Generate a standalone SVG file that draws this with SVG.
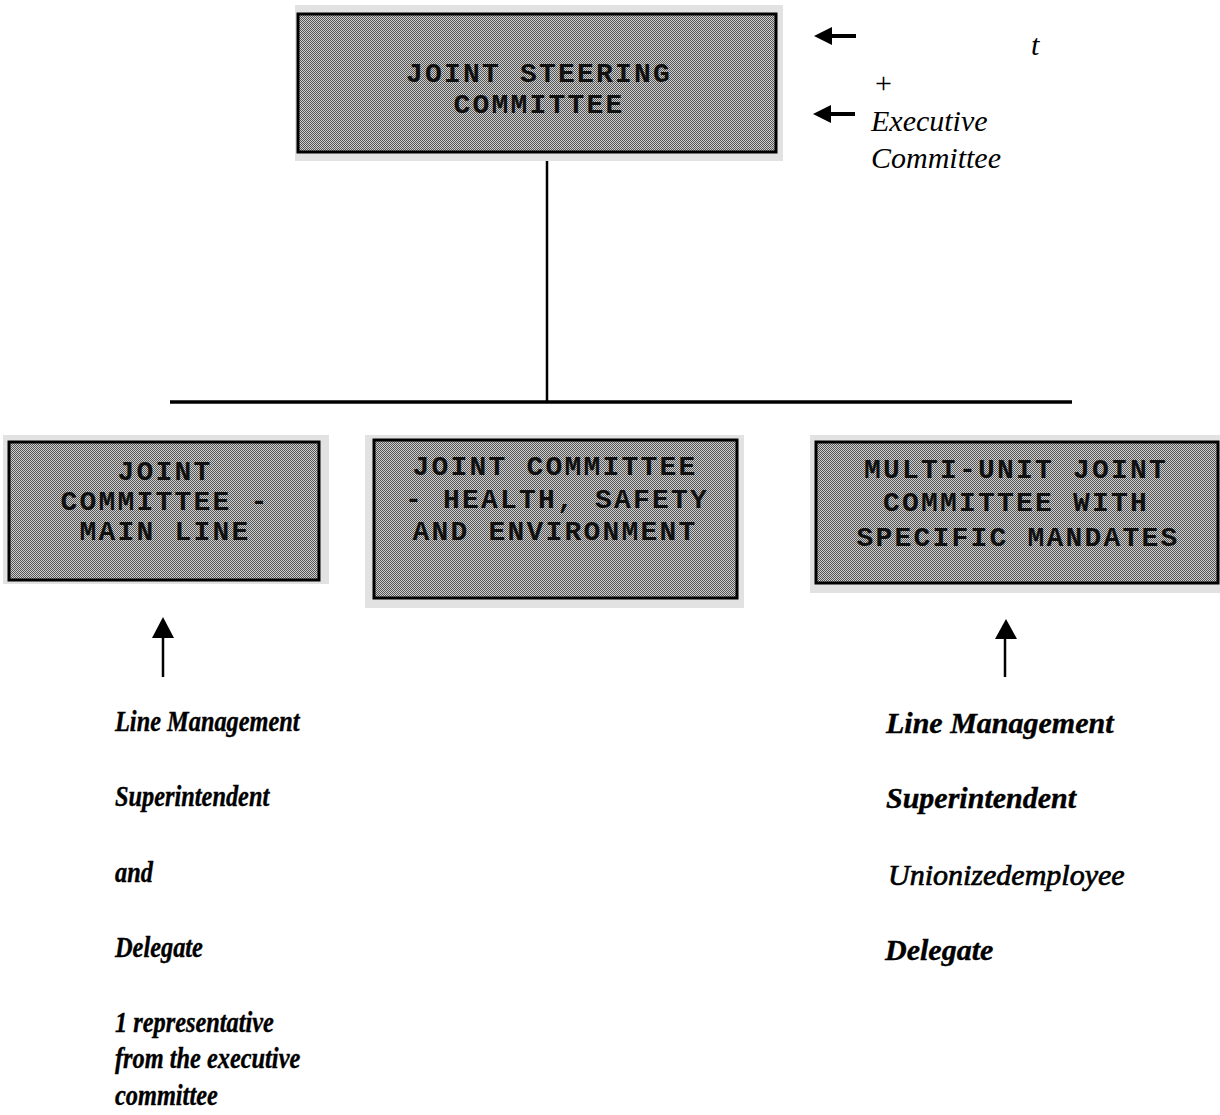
<svg xmlns="http://www.w3.org/2000/svg" width="1220" height="1115" viewBox="0 0 1220 1115">
<style>
.frame{fill:#e2e2e2}
.box{fill:url(#ht);stroke:#000;stroke-width:3}
.bt{font-family:"Liberation Mono","DejaVu Sans Mono",monospace;font-weight:bold;font-size:28px;letter-spacing:2.2px;fill:#111;text-anchor:middle}
.it{font-family:"Liberation Serif","DejaVu Serif",serif;font-style:italic;font-size:30px;fill:#000}
.bi{font-family:"Liberation Serif","DejaVu Serif",serif;font-style:italic;font-weight:bold;font-size:30px;fill:#000;stroke:#000;stroke-width:0.4}
.bil{font-family:"Liberation Serif","DejaVu Serif",serif;font-style:italic;font-weight:bold;font-size:29px;fill:#000;stroke:#000;stroke-width:0.4}
.ln{stroke:#000;fill:none}
</style>
<defs>
<pattern id="ht" width="2" height="2" patternUnits="userSpaceOnUse">
<rect width="2" height="2" fill="#cfcfcf"/>
<rect width="1" height="1" fill="#555"/>
<rect x="1" y="1" width="1" height="1" fill="#555"/>
</pattern>
</defs>
<rect width="1220" height="1115" fill="#fff"/>

<g id="connectors">
<line class="ln" x1="547" y1="152" x2="547" y2="402" stroke-width="2.5"/>
<line class="ln" x1="170" y1="402" x2="1072" y2="402" stroke-width="3.5"/>
<line class="ln" x1="163" y1="634" x2="163" y2="677" stroke-width="2.5"/>
<polygon points="163,617 152,638 174,638" fill="#000"/>
<line class="ln" x1="1005" y1="634" x2="1005" y2="677" stroke-width="2.5"/>
<polygon points="1006,619 995,639 1017,639" fill="#000"/>
<line class="ln" x1="826" y1="36" x2="856" y2="36" stroke-width="4"/>
<polygon points="814,36 832,27 832,45" fill="#000"/>
<line class="ln" x1="826" y1="114" x2="855" y2="114" stroke-width="4"/>
<polygon points="813,114 831,105 831,123" fill="#000"/>
</g>

<g id="steering">
<rect class="frame" x="295" y="5" width="488" height="156"/>
<rect class="box" x="298" y="14" width="478" height="138"/>
<text class="bt" x="539" y="82">JOINT STEERING</text>
<text class="bt" x="539" y="113">COMMITTEE</text>
</g>

<g id="main-line">
<rect class="frame" x="3" y="435" width="326" height="149"/>
<rect class="box" x="9" y="442" width="310" height="138"/>
<text class="bt" x="165" y="480">JOINT</text>
<text class="bt" x="165" y="510">COMMITTEE -</text>
<text class="bt" x="165" y="540">MAIN LINE</text>
</g>

<g id="hse">
<rect class="frame" x="365" y="435" width="379" height="173"/>
<rect class="box" x="374" y="440" width="363" height="158"/>
<text class="bt" x="555" y="475">JOINT COMMITTEE</text>
<text class="bt" x="557" y="508">- HEALTH, SAFETY</text>
<text class="bt" x="555" y="540">AND ENVIRONMENT</text>
</g>

<g id="multi-unit">
<rect class="frame" x="810" y="435" width="410" height="158"/>
<rect class="box" x="816" y="442" width="402" height="141"/>
<text class="bt" x="1016" y="478">MULTI-UNIT JOINT</text>
<text class="bt" x="1016" y="511">COMMITTEE WITH</text>
<text class="bt" x="1018" y="546">SPECIFIC MANDATES</text>
</g>

<g id="exec-note">
<text class="it" x="1031" y="55">t</text>
<text x="875" y="93" style="font-family:'Liberation Serif',serif;font-size:30px">+</text>
<text class="it" x="871" y="131">Executive</text>
<text class="it" x="871" y="168">Committee</text>
</g>

<g id="left-notes" transform="translate(115,0) scale(0.84,1)">
<text class="bil" x="0" y="731">Line Management</text>
<text class="bil" x="0" y="806">Superintendent</text>
<text class="bil" x="0" y="882">and</text>
<text class="bil" x="0" y="957">Delegate</text>
<text class="bil" x="0" y="1032">1 representative</text>
<text class="bil" x="0" y="1068">from the executive</text>
<text class="bil" x="0" y="1105">committee</text>
</g>

<g id="right-notes">
<text class="bi" x="886" y="733">Line Management</text>
<text class="bi" x="886" y="808">Superintendent</text>
<text class="it" x="888" y="885" style="stroke:#000;stroke-width:0.7">Unionizedemployee</text>
<text class="bi" x="885" y="960">Delegate</text>
</g>
</svg>
